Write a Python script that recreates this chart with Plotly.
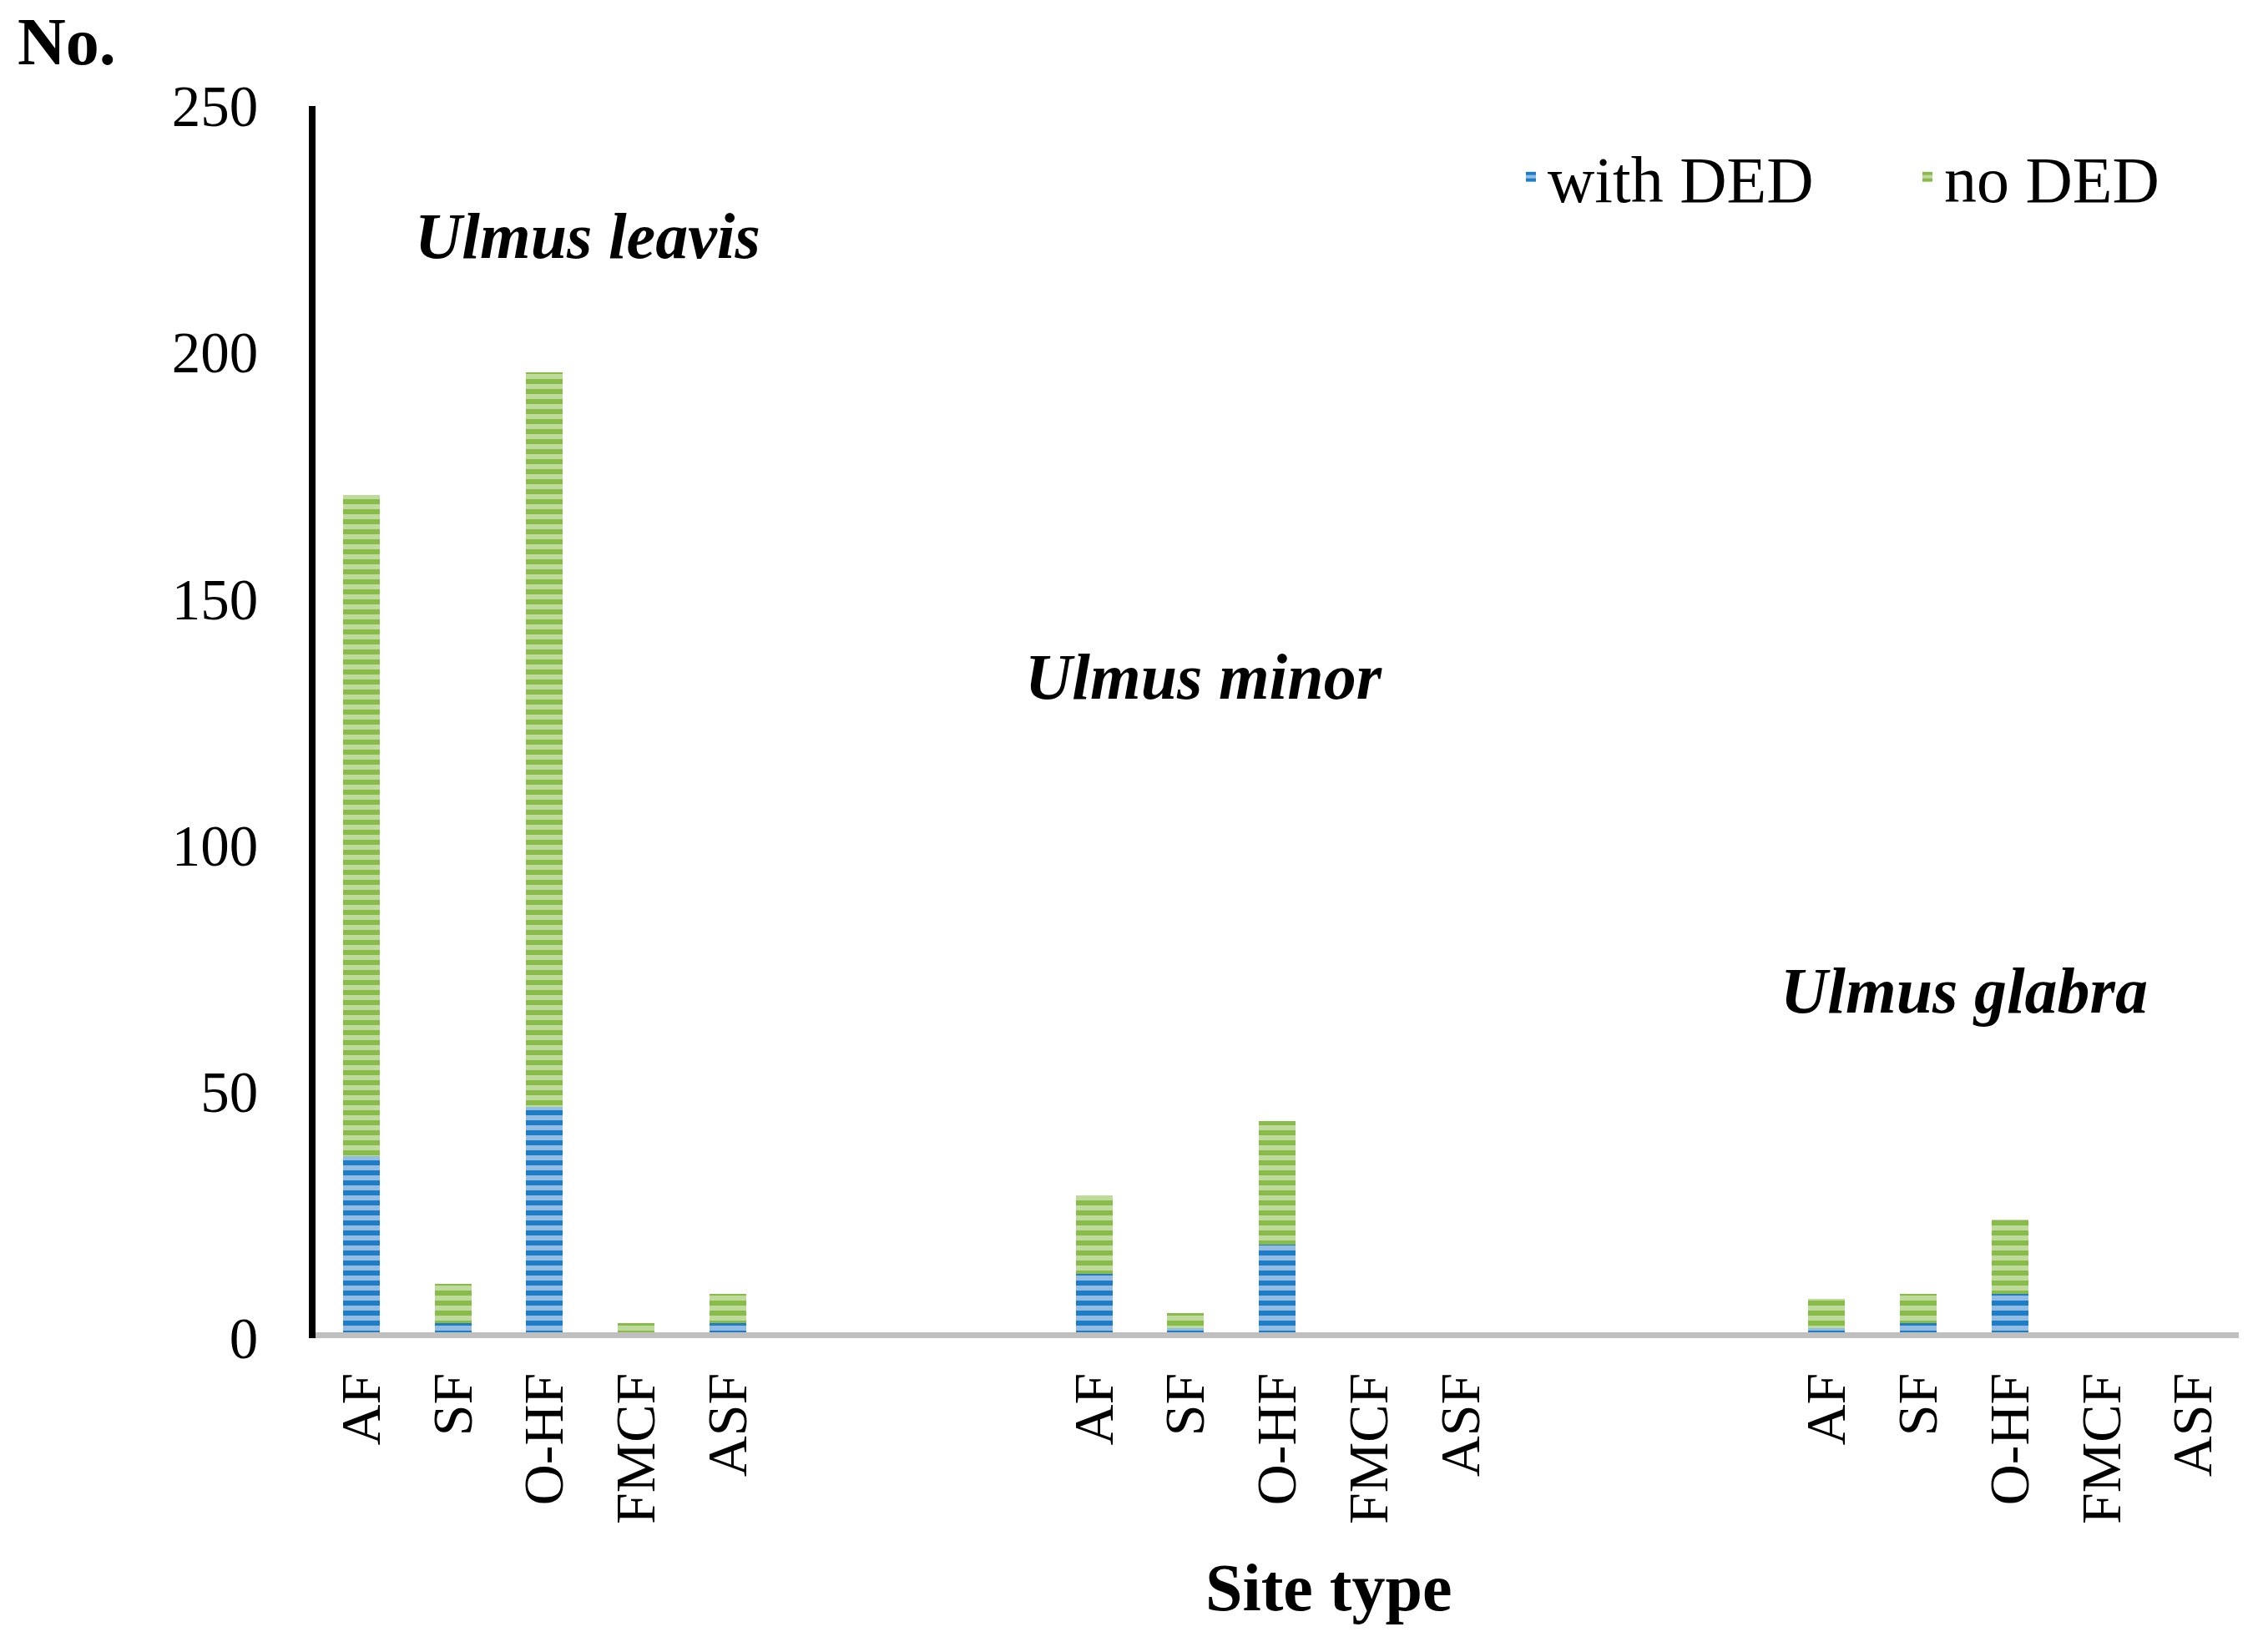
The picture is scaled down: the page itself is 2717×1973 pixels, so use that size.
import plotly.graph_objects as go

# ---------------- data ----------------
species = ["Ulmus leavis", "Ulmus minor", "Ulmus glabra"]
site_types = ["AF", "SF", "O-HF", "FMCF", "ASF"]

with_ded = {
    "Ulmus leavis": [37, 3, 47, 0, 3],
    "Ulmus minor": [13, 2, 19, 0, 0],
    "Ulmus glabra": [2, 3, 9, 0, 0],
}
no_ded = {
    "Ulmus leavis": [134, 8, 149, 3, 6],
    "Ulmus minor": [16, 3, 25, 1, 0],
    "Ulmus glabra": [6, 6, 15, 0, 0],
}
y_ticks = [0, 50, 100, 150, 200, 250]

# ---------------- build categories (with empty slots between groups) ----------------
GAP = 3
all_cats, bar_cats, tick_text = [], [], []
y_with, y_no = [], []
for i, sp in enumerate(species):
    for st in site_types:
        c = f"{sp} | {st}"
        all_cats.append(c)
        bar_cats.append(c)
        tick_text.append(st)
    y_with += with_ded[sp]
    y_no += no_ded[sp]
    if i < len(species) - 1:
        for k in range(GAP):
            all_cats.append(f"gap {i} {k}")

FONT = "Liberation Serif"
BLUE_DARK, BLUE_LIGHT = "#1f7dc6", "#92bce3"
GREEN_DARK, GREEN_LIGHT = "#88bb4a", "#bedb9b"

fig = go.Figure()
fig.add_trace(go.Bar(
    x=bar_cats, y=y_with, name="with DED", width=0.40, legend="legend",
    marker=dict(color=BLUE_LIGHT, line=dict(width=0),
                pattern=dict(shape="-", fgcolor=BLUE_DARK, bgcolor=BLUE_LIGHT,
                             size=12, solidity=0.5, fillmode="replace")),
))
fig.add_trace(go.Bar(
    x=bar_cats, y=y_no, name="no DED", width=0.40, legend="legend2",
    marker=dict(color=GREEN_LIGHT, line=dict(width=0),
                pattern=dict(shape="-", fgcolor=GREEN_DARK, bgcolor=GREEN_LIGHT,
                             size=12, solidity=0.5, fillmode="replace")),
))

W, H = 2717, 1973
ML, MR, MT, MB = 378, 35, 127, 370
PW, PH = W - ML - MR, H - MT - MB

def px_x(p):
    return (p - ML) / PW

def px_y(p):
    return (H - MB - p) / PH

legend_common = dict(orientation="h", xanchor="left", yanchor="middle", y=px_y(212),
                     font=dict(family=FONT, size=78, color="black"),
                     bgcolor="rgba(0,0,0,0)", borderwidth=0)

fig.update_layout(
    width=W, height=H,
    margin=dict(l=ML, r=MR, t=MT, b=MB, autoexpand=False),
    barmode="stack",
    plot_bgcolor="white", paper_bgcolor="white",
    font=dict(family=FONT, color="black", size=68),
    showlegend=True,
    legend=dict(x=px_x(1856 - 42), **legend_common),
    legend2=dict(x=px_x(2331 - 42), **legend_common),
    xaxis=dict(type="category", categoryorder="array", categoryarray=all_cats,
               range=[-0.5, len(all_cats) - 0.5],
               tickmode="array", tickvals=bar_cats, ticktext=tick_text,
               tickangle=-90, ticks="", showline=False, showgrid=False,
               zeroline=False, ticklabelstandoff=27, automargin=False,
               tickfont=dict(family=FONT, size=68, color="black")),
    yaxis=dict(range=[0, 250], tickmode="array", tickvals=y_ticks,
               showline=True, linecolor="black", linewidth=8,
               ticks="", showgrid=False, zeroline=False,
               ticklabelstandoff=47, automargin=False,
               tickfont=dict(family=FONT, size=69, color="black")),
)

# baseline (gray horizontal axis line at zero)
fig.add_shape(type="line", xref="x domain", yref="y", x0=0, x1=1, y0=0, y1=0,
              line=dict(color="#bfbfbf", width=14), layer="above")

# species labels
species_label_x = [2.47, 9.2, 17.5]
species_label_y = [223.7, 134.2, 70.5]
for sp, lx, ly in zip(species, species_label_x, species_label_y):
    fig.add_annotation(x=lx, y=ly, xref="x", yref="y", text=f"<b><i>{sp}</i></b>",
                       xanchor="center", yanchor="middle",
                       showarrow=False, font=dict(family=FONT, size=78, color="black"))

# axis titles
fig.add_annotation(x=px_x(80), y=px_y(50), xref="paper", yref="paper",
                   text="<b>No.</b>", showarrow=False, xanchor="center", yanchor="middle",
                   font=dict(family=FONT, size=80, color="black"))
fig.add_annotation(x=px_x(1592), y=px_y(1902), xref="paper", yref="paper",
                   text="<b>Site type</b>", showarrow=False, xanchor="center", yanchor="middle",
                   font=dict(family=FONT, size=80, color="black"))

fig.write_html("out.html",
               config={"displayModeBar": False},
               post_script="document.body.style.margin='0';document.body.style.overflow='hidden';")
